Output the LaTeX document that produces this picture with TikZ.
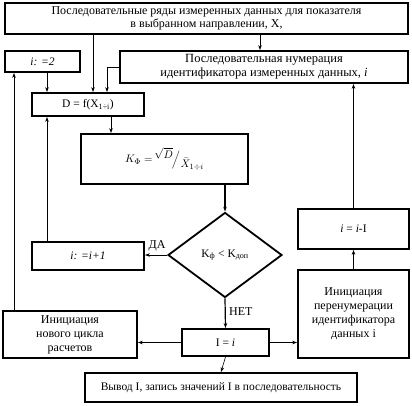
\documentclass[tikz,border=0pt]{standalone}
\usepackage{fontspec}
\setmainfont{Liberation Serif}
\usetikzlibrary{shapes.geometric,arrows.meta}
\begin{document}
\begin{tikzpicture}[x=1pt,y=-1pt]
			\tikzstyle{BL}=[rectangle,draw=black,line width=1.8pt,inner sep=1pt,align=center,font=\fontsize{11.5}{13.5}\selectfont]
			\tikzstyle{AR}=[-{Stealth[length=5pt,width=3.5pt]},line width=0.6pt]
			\useasboundingbox (0,0) rectangle (412,405);
			\begin{scope}
			\node[BL,font=\fontsize{12}{13.5}\selectfont,minimum width=403pt,minimum height=31pt] (src) at (206.5,18.5) {Последовательные ряды измеренных данных для показателя\\в выбранном направлении, X,};
			\node[BL,minimum width=75pt,minimum height=21pt] (init) at (42.5,61.5) {\textit{i: =2}};
			\node[BL,font=\fontsize{12.5}{14}\selectfont,minimum width=288pt,minimum height=32pt] (numer) at (264,67) {Последовательная нумерация\\идентификатора измеренных данных, \textit{i}};
			\node[BL,minimum width=112pt,minimum height=23pt] (D) at (88,104.5) {D = f(X\textsubscript{1÷i})};
			\node[BL,font=\fontsize{11}{13}\selectfont,minimum width=167pt,minimum height=50pt] (K) at (164.5,159) {$K_{\Phi}=$\,\raisebox{4.5pt}{$\sqrt{D}$}\kern-1pt$\Big/$\kern0.5pt\raisebox{-5pt}{$\bar{X}_{1\div i}$}};
			\node[BL,diamond,inner sep=0pt,minimum width=114pt,minimum height=85pt] (dia) at (225,255) {K\textsubscript{ф} < K\textsubscript{доп}};
			\node[BL,minimum width=112pt,minimum height=28pt] (inc) at (88,256) {\textit{i: =i+1}};
			\node[BL,minimum width=111pt,minimum height=40pt] (dec) at (353.5,229) {\textit{i} = \textit{i}-I};
			\node[BL,font=\fontsize{12}{14}\selectfont,minimum width=111pt,minimum height=88pt] (renum) at (353.5,314) {Инициация\\перенумерации\\идентификатора\\данных i};
			\node[BL,font=\fontsize{12}{14}\selectfont,minimum width=134pt,minimum height=47pt] (newcyc) at (70,334.5) {Инициация\\нового цикла\\расчетов};
			\node[BL,minimum width=87pt,minimum height=27pt] (Ieq) at (225.5,342.5) {I = \textit{i}};
			\node[BL,minimum width=272pt,minimum height=29pt] (out) at (221,387.5) {Вывод I, запись значений I в последовательность};
			\end{scope}
			
			\draw[AR] (src.south -| 93,0) -- (D.north -| 93,0);
			\draw[AR] (src.south -| 260,0) -- (numer.north -| 260,0);
			\draw[AR] (numer.west) -| (D.north -| 107,0);
			\draw[AR] (init.south -| 47,0) -- (D.north -| 47,0);
			\draw[AR] (D.south -| 111,0) -- (K.north -| 111,0);
			\draw[AR,line width=1.2pt] (K.south -| dia.north) -- (dia.north);
			\draw[AR] (dia.west) -- (dia.west -| inc.east) node[pos=0.45,above,font=\fontsize{12}{14}\selectfont] {ДА};
			\draw[AR,line width=1.2pt] (dia.south) -- (Ieq.north) node[pos=0.45,right,font=\fontsize{12}{14}\selectfont] {НЕТ};
			\draw[AR] (Ieq.west) -- (Ieq.west -| newcyc.east);
			\draw[AR] (Ieq.east) -- (Ieq.east -| renum.west);
			\draw[AR] (Ieq.south) -- (out.north);
			\draw[AR] (renum.north) -- (dec.south);
			\draw[AR] (dec.north) -- (dec.north |- numer.south);
			\draw[AR] (newcyc.north -| 14,0) -- (init.south -| 14,0);
			\draw[AR] (inc.north -| 47,0) -- (D.south -| 47,0);
		\end{tikzpicture}
\end{document}
